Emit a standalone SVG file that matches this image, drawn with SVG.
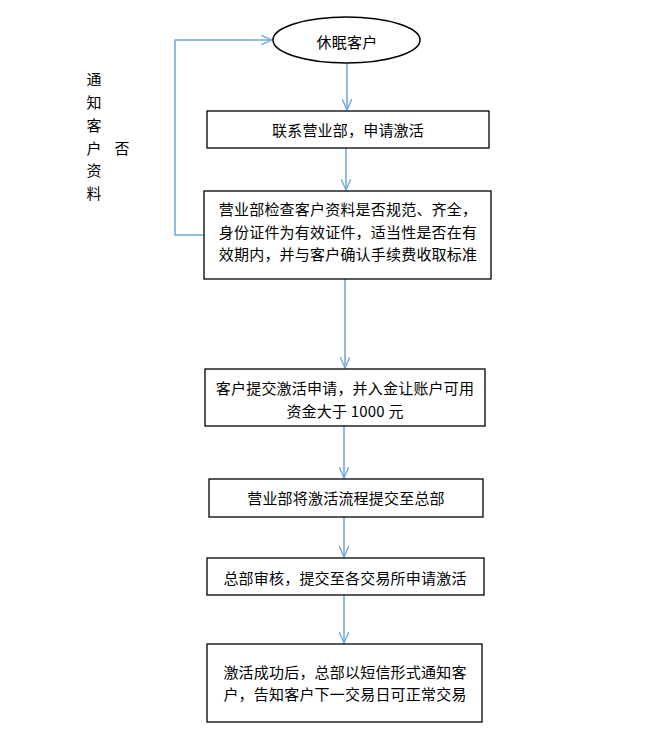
<svg xmlns="http://www.w3.org/2000/svg" width="657" height="755" viewBox="0 0 657 755">
<defs>
<style>
.box{fill:#fff;stroke:#000;stroke-width:1.3}
.t{font-family:"Noto Sans CJK SC","Liberation Sans",sans-serif;font-size:15px;letter-spacing:0.2px;fill:#000;text-anchor:middle;dominant-baseline:central}
.c{fill:none;stroke:#6fa6dc;stroke-width:1.5}
</style>
<marker id="arr" viewBox="0 0 12 10" refX="11.5" refY="5" markerWidth="12" markerHeight="10" markerUnits="userSpaceOnUse" orient="auto">
<path d="M0,0 L11.5,5 L0,10" fill="none" stroke="#6fa6dc" stroke-width="1.3"/>
</marker>
</defs>
<rect width="657" height="755" fill="#fff"/>
<g id="connectors">
<line class="c" x1="347" y1="63" x2="347" y2="110" marker-end="url(#arr)"/>
<line class="c" x1="346" y1="148" x2="346" y2="190" marker-end="url(#arr)"/>
<line class="c" x1="345" y1="279" x2="345" y2="368" marker-end="url(#arr)"/>
<line class="c" x1="344" y1="426" x2="344" y2="478" marker-end="url(#arr)"/>
<line class="c" x1="344" y1="517" x2="344" y2="557" marker-end="url(#arr)"/>
<line class="c" x1="344" y1="595" x2="344" y2="643" marker-end="url(#arr)"/>
<polyline class="c" points="204,235 175,235 175,40 272,40" marker-end="url(#arr)"/>
</g>
<g id="n0">
<ellipse cx="346.5" cy="40" rx="73.5" ry="23" fill="#fff" stroke="#000" stroke-width="1.5"/>
<text class="t" x="347" y="41">休眠客户</text>
</g>
<g id="n1">
<rect class="box" x="207" y="111" width="282" height="37"/>
<text class="t" x="348" y="129">联系营业部，申请激活</text>
</g>
<g id="n2">
<rect class="box" x="204" y="191" width="287" height="88"/>
<text class="t" x="348" y="208">营业部检查客户资料是否规范、齐全，</text>
<text class="t" x="348" y="231">身份证件为有效证件，适当性是否在有</text>
<text class="t" x="348" y="253">效期内，并与客户确认手续费收取标准</text>
</g>
<g id="n3">
<rect class="box" x="205" y="369" width="280" height="57"/>
<text class="t" x="345" y="387">客户提交激活申请，并入金让账户可用</text>
<text class="t" x="345" y="410">资金大于 1000 元</text>
</g>
<g id="n4">
<rect class="box" x="209" y="479" width="274" height="38"/>
<text class="t" x="346" y="497">营业部将激活流程提交至总部</text>
</g>
<g id="n5">
<rect class="box" x="207" y="558" width="277" height="37"/>
<text class="t" x="345" y="577">总部审核，提交至各交易所申请激活</text>
</g>
<g id="n6">
<rect class="box" x="207" y="644" width="275" height="78"/>
<text class="t" x="345" y="671">激活成功后，总部以短信形式通知客</text>
<text class="t" x="345" y="693">户，告知客户下一交易日可正常交易</text>
</g>
<g id="labels">
<text class="t" x="94" y="78">通</text>
<text class="t" x="94" y="101">知</text>
<text class="t" x="94" y="124">客</text>
<text class="t" x="94" y="147">户</text>
<text class="t" x="94" y="169">资</text>
<text class="t" x="94" y="192">料</text>
<text class="t" x="122" y="147">否</text>
</g>
</svg>
